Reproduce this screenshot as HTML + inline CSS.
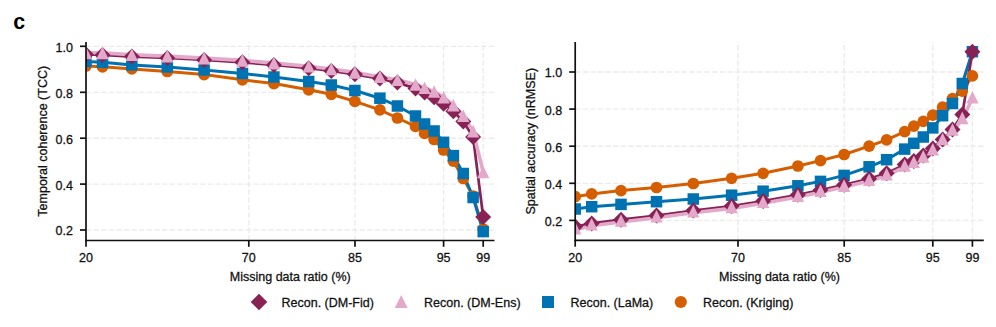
<!DOCTYPE html>
<html><head><meta charset="utf-8"><style>
html,body{margin:0;padding:0;background:#fff;width:996px;height:327px;overflow:hidden;}
svg{display:block;}
text{font-family:"Liberation Sans", sans-serif;}
</style></head><body>
<svg width="996" height="327" viewBox="0 0 996 327" font-family='"Liberation Sans", sans-serif'><text x="13.2" y="28.9" font-size="21.3" font-weight="bold" fill="#000">c</text>
<clipPath id="clip0"><rect x="86" y="42" width="408.5" height="198.5"/></clipPath>
<g stroke="#ebebeb" stroke-width="1.35" stroke-dasharray="5.3 2.3"><line x1="86" y1="46.3" x2="494.5" y2="46.3"/><line x1="86" y1="92.3" x2="494.5" y2="92.3"/><line x1="86" y1="138.2" x2="494.5" y2="138.2"/><line x1="86" y1="184.1" x2="494.5" y2="184.1"/><line x1="86" y1="230" x2="494.5" y2="230"/><line x1="86" y1="240.5" x2="86" y2="42"/><line x1="248.8" y1="240.5" x2="248.8" y2="42"/><line x1="355" y1="240.5" x2="355" y2="42"/><line x1="443.6" y1="240.5" x2="443.6" y2="42"/><line x1="483.2" y1="240.5" x2="483.2" y2="42"/></g>
<g clip-path="url(#clip0)"><polyline points="86,66 102.5,66.8 131.8,68.9 167.3,71.5 204.1,74.6 242.4,79.8 273.9,83.6 308.7,89.8 331.3,94.3 354.9,101.4 379.9,109.8 397.4,118 415.5,126.4 424.6,133.4 434.1,139.5 443.6,150 453.4,161.2 463.3,178.5 473.1,196 483.2,229" fill="none" stroke="#d55e00" stroke-width="3" stroke-linejoin="round" stroke-linecap="butt"/><polyline points="86,61.5 102.5,62.3 131.8,64.9 167.3,66.9 204.1,69.9 242.4,73.5 273.9,77 308.7,81.5 331.3,85 354.9,90.5 379.9,98.2 397.4,106 415.5,116 424.6,124 434.1,131 443.6,142.3 453.4,155.6 463.3,173.5 473.1,197.5 483.2,231.6" fill="none" stroke="#0072b2" stroke-width="3" stroke-linejoin="round" stroke-linecap="butt"/><polyline points="86,54.5 102.5,54.9 131.8,56.6 167.3,58 204.1,60 242.4,62.3 273.9,65 308.7,68.2 331.3,70.9 354.9,74.3 379.9,78.6 397.4,82.6 415.5,88.4 424.6,92.6 434.1,97.2 443.6,103.8 453.4,111.3 463.3,121.5 473.1,137 483.2,217" fill="none" stroke="#882255" stroke-width="2.7" stroke-linejoin="round" stroke-linecap="butt"/><polyline points="86,52.9 102.5,52.9 131.8,54.7 167.3,56.1 204.1,58.1 242.4,60.4 273.9,63.1 308.7,66.3 331.3,69 354.9,72.4 379.9,76.7 397.4,79.7 415.5,84.54 424.6,87.72 434.1,91.56 443.6,97.26 453.4,105.26 463.3,115.8 473.1,131.1 483.2,172" fill="none" stroke="#e3a9cb" stroke-width="3.6" stroke-linejoin="round" stroke-linecap="butt"/><circle cx="86" cy="66" r="5.85" fill="#d55e00"/><circle cx="102.5" cy="66.8" r="5.85" fill="#d55e00"/><circle cx="131.8" cy="68.9" r="5.85" fill="#d55e00"/><circle cx="167.3" cy="71.5" r="5.85" fill="#d55e00"/><circle cx="204.1" cy="74.6" r="5.85" fill="#d55e00"/><circle cx="242.4" cy="79.8" r="5.85" fill="#d55e00"/><circle cx="273.9" cy="83.6" r="5.85" fill="#d55e00"/><circle cx="308.7" cy="89.8" r="5.85" fill="#d55e00"/><circle cx="331.3" cy="94.3" r="5.85" fill="#d55e00"/><circle cx="354.9" cy="101.4" r="5.85" fill="#d55e00"/><circle cx="379.9" cy="109.8" r="5.85" fill="#d55e00"/><circle cx="397.4" cy="118" r="5.85" fill="#d55e00"/><circle cx="415.5" cy="126.4" r="5.85" fill="#d55e00"/><circle cx="424.6" cy="133.4" r="5.85" fill="#d55e00"/><circle cx="434.1" cy="139.5" r="5.85" fill="#d55e00"/><circle cx="443.6" cy="150" r="5.85" fill="#d55e00"/><circle cx="453.4" cy="161.2" r="5.85" fill="#d55e00"/><circle cx="463.3" cy="178.5" r="5.85" fill="#d55e00"/><circle cx="473.1" cy="196" r="5.85" fill="#d55e00"/><circle cx="483.2" cy="229" r="5.85" fill="#d55e00"/><rect x="80.25" y="55.75" width="11.5" height="11.5" fill="#0072b2"/><rect x="96.75" y="56.55" width="11.5" height="11.5" fill="#0072b2"/><rect x="126.05" y="59.15" width="11.5" height="11.5" fill="#0072b2"/><rect x="161.55" y="61.15" width="11.5" height="11.5" fill="#0072b2"/><rect x="198.35" y="64.15" width="11.5" height="11.5" fill="#0072b2"/><rect x="236.65" y="67.75" width="11.5" height="11.5" fill="#0072b2"/><rect x="268.15" y="71.25" width="11.5" height="11.5" fill="#0072b2"/><rect x="302.95" y="75.75" width="11.5" height="11.5" fill="#0072b2"/><rect x="325.55" y="79.25" width="11.5" height="11.5" fill="#0072b2"/><rect x="349.15" y="84.75" width="11.5" height="11.5" fill="#0072b2"/><rect x="374.15" y="92.45" width="11.5" height="11.5" fill="#0072b2"/><rect x="391.65" y="100.25" width="11.5" height="11.5" fill="#0072b2"/><rect x="409.75" y="110.25" width="11.5" height="11.5" fill="#0072b2"/><rect x="418.85" y="118.25" width="11.5" height="11.5" fill="#0072b2"/><rect x="428.35" y="125.25" width="11.5" height="11.5" fill="#0072b2"/><rect x="437.85" y="136.55" width="11.5" height="11.5" fill="#0072b2"/><rect x="447.65" y="149.85" width="11.5" height="11.5" fill="#0072b2"/><rect x="457.55" y="167.75" width="11.5" height="11.5" fill="#0072b2"/><rect x="467.35" y="191.75" width="11.5" height="11.5" fill="#0072b2"/><rect x="477.45" y="225.85" width="11.5" height="11.5" fill="#0072b2"/><path d="M86 46.5L94 54.5L86 62.5L78 54.5Z" fill="#882255"/><path d="M102.5 46.9L110.5 54.9L102.5 62.9L94.5 54.9Z" fill="#882255"/><path d="M131.8 48.6L139.8 56.6L131.8 64.6L123.8 56.6Z" fill="#882255"/><path d="M167.3 50L175.3 58L167.3 66L159.3 58Z" fill="#882255"/><path d="M204.1 52L212.1 60L204.1 68L196.1 60Z" fill="#882255"/><path d="M242.4 54.3L250.4 62.3L242.4 70.3L234.4 62.3Z" fill="#882255"/><path d="M273.9 57L281.9 65L273.9 73L265.9 65Z" fill="#882255"/><path d="M308.7 60.2L316.7 68.2L308.7 76.2L300.7 68.2Z" fill="#882255"/><path d="M331.3 62.9L339.3 70.9L331.3 78.9L323.3 70.9Z" fill="#882255"/><path d="M354.9 66.3L362.9 74.3L354.9 82.3L346.9 74.3Z" fill="#882255"/><path d="M379.9 70.6L387.9 78.6L379.9 86.6L371.9 78.6Z" fill="#882255"/><path d="M397.4 74.6L405.4 82.6L397.4 90.6L389.4 82.6Z" fill="#882255"/><path d="M415.5 80.4L423.5 88.4L415.5 96.4L407.5 88.4Z" fill="#882255"/><path d="M424.6 84.6L432.6 92.6L424.6 100.6L416.6 92.6Z" fill="#882255"/><path d="M434.1 89.2L442.1 97.2L434.1 105.2L426.1 97.2Z" fill="#882255"/><path d="M443.6 95.8L451.6 103.8L443.6 111.8L435.6 103.8Z" fill="#882255"/><path d="M453.4 103.3L461.4 111.3L453.4 119.3L445.4 111.3Z" fill="#882255"/><path d="M463.3 113.5L471.3 121.5L463.3 129.5L455.3 121.5Z" fill="#882255"/><path d="M473.1 129L481.1 137L473.1 145L465.1 137Z" fill="#882255"/><path d="M483.2 209L491.2 217L483.2 225L475.2 217Z" fill="#882255"/><path d="M86 46.6L92.2 59.2L79.8 59.2Z" fill="#e3a9cb"/><path d="M102.5 46.6L108.7 59.2L96.3 59.2Z" fill="#e3a9cb"/><path d="M131.8 48.4L138 61L125.6 61Z" fill="#e3a9cb"/><path d="M167.3 49.8L173.5 62.4L161.1 62.4Z" fill="#e3a9cb"/><path d="M204.1 51.8L210.3 64.4L197.9 64.4Z" fill="#e3a9cb"/><path d="M242.4 54.1L248.6 66.7L236.2 66.7Z" fill="#e3a9cb"/><path d="M273.9 56.8L280.1 69.4L267.7 69.4Z" fill="#e3a9cb"/><path d="M308.7 60L314.9 72.6L302.5 72.6Z" fill="#e3a9cb"/><path d="M331.3 62.7L337.5 75.3L325.1 75.3Z" fill="#e3a9cb"/><path d="M354.9 66.1L361.1 78.7L348.7 78.7Z" fill="#e3a9cb"/><path d="M379.9 70.4L386.1 83L373.7 83Z" fill="#e3a9cb"/><path d="M397.4 73.4L403.6 86L391.2 86Z" fill="#e3a9cb"/><path d="M415.5 78.24L421.7 90.84L409.3 90.84Z" fill="#e3a9cb"/><path d="M424.6 81.42L430.8 94.02L418.4 94.02Z" fill="#e3a9cb"/><path d="M434.1 85.26L440.3 97.86L427.9 97.86Z" fill="#e3a9cb"/><path d="M443.6 90.96L449.8 103.56L437.4 103.56Z" fill="#e3a9cb"/><path d="M453.4 98.96L459.6 111.56L447.2 111.56Z" fill="#e3a9cb"/><path d="M463.3 109.5L469.5 122.1L457.1 122.1Z" fill="#e3a9cb"/><path d="M473.1 124.8L479.3 137.4L466.9 137.4Z" fill="#e3a9cb"/><path d="M483.2 165.7L489.4 178.3L477 178.3Z" fill="#e3a9cb"/></g>
<g stroke="#111" stroke-width="1.7"><line x1="86" y1="42" x2="86" y2="241.3"/><line x1="85.2" y1="240.5" x2="494.5" y2="240.5"/><line x1="80" y1="46.3" x2="86" y2="46.3"/><line x1="80" y1="92.3" x2="86" y2="92.3"/><line x1="80" y1="138.2" x2="86" y2="138.2"/><line x1="80" y1="184.1" x2="86" y2="184.1"/><line x1="80" y1="230" x2="86" y2="230"/><line x1="86" y1="240.5" x2="86" y2="246.8"/><line x1="248.8" y1="240.5" x2="248.8" y2="246.8"/><line x1="355" y1="240.5" x2="355" y2="246.8"/><line x1="443.6" y1="240.5" x2="443.6" y2="246.8"/><line x1="483.2" y1="240.5" x2="483.2" y2="246.8"/></g>
<g fill="#111" font-size="12.5" stroke="#111" stroke-width="0.28"><text x="73" y="51.7" text-anchor="end">1.0</text><text x="73" y="97.7" text-anchor="end">0.8</text><text x="73" y="143.6" text-anchor="end">0.6</text><text x="73" y="189.5" text-anchor="end">0.4</text><text x="73" y="235.4" text-anchor="end">0.2</text><text x="86" y="262" text-anchor="middle">20</text><text x="248.8" y="262" text-anchor="middle">70</text><text x="355" y="262" text-anchor="middle">85</text><text x="443.6" y="262" text-anchor="middle">95</text><text x="483.2" y="262" text-anchor="middle">99</text><text x="290.25" y="280.7" text-anchor="middle">Missing data ratio (%)</text><text transform="translate(46.7 141.25) rotate(-90)" text-anchor="middle">Temporal coherence (TCC)</text></g>
<clipPath id="clip1"><rect x="575.2" y="42" width="408.6" height="198.4"/></clipPath>
<g stroke="#ebebeb" stroke-width="1.35" stroke-dasharray="5.3 2.3"><line x1="575.2" y1="72" x2="983.8" y2="72"/><line x1="575.2" y1="109.1" x2="983.8" y2="109.1"/><line x1="575.2" y1="146.2" x2="983.8" y2="146.2"/><line x1="575.2" y1="183.3" x2="983.8" y2="183.3"/><line x1="575.2" y1="220.4" x2="983.8" y2="220.4"/><line x1="575.2" y1="240.4" x2="575.2" y2="42"/><line x1="738" y1="240.4" x2="738" y2="42"/><line x1="844.2" y1="240.4" x2="844.2" y2="42"/><line x1="932.8" y1="240.4" x2="932.8" y2="42"/><line x1="972.4" y1="240.4" x2="972.4" y2="42"/></g>
<g clip-path="url(#clip1)"><polyline points="575.2,196.7 591.7,193.9 621,190.6 656.5,187.5 693.3,183.5 731.6,178.3 763.1,173.3 797.9,166 820.5,160.6 844.1,154.5 869.1,146.2 886.6,139.8 904.7,131.6 913.8,126.2 923.3,121.3 932.8,115.2 942.6,107.1 952.5,98.6 962.3,91.1 972.4,75.9" fill="none" stroke="#d55e00" stroke-width="3" stroke-linejoin="round" stroke-linecap="butt"/><polyline points="575.2,209 591.7,206.7 621,204.4 656.5,201.7 693.3,199 731.6,195.2 763.1,191.2 797.9,185.8 820.5,181.4 844.1,175.4 869.1,166.8 886.6,159.7 904.7,149.1 913.8,143.3 923.3,137 932.8,127.9 942.6,115.7 952.5,103.5 962.3,83.5 972.4,51.7" fill="none" stroke="#0072b2" stroke-width="3" stroke-linejoin="round" stroke-linecap="butt"/><polyline points="575.2,226.5 591.7,223.4 621,219.7 656.5,215.5 693.3,210.5 731.6,206.1 763.1,201 797.9,194.8 820.5,190 844.1,184.8 869.1,178.8 886.6,173.3 904.7,164.6 913.8,161 923.3,155.6 932.8,148.5 942.6,139.4 952.5,129.6 962.3,114.5 972.4,51.7" fill="none" stroke="#882255" stroke-width="2.7" stroke-linejoin="round" stroke-linecap="butt"/><polyline points="575.2,229.8 591.7,225.7 621,222 656.5,217.8 693.3,212.8 731.6,208.4 763.1,203.3 797.9,197.1 820.5,192.3 844.1,187.1 869.1,181.1 886.6,175.6 904.7,166.9 913.8,163.3 923.3,157.9 932.8,150.8 942.6,140.5 952.5,131 962.3,119.4 972.4,98.8" fill="none" stroke="#e3a9cb" stroke-width="3.6" stroke-linejoin="round" stroke-linecap="butt"/><circle cx="575.2" cy="196.7" r="5.85" fill="#d55e00"/><circle cx="591.7" cy="193.9" r="5.85" fill="#d55e00"/><circle cx="621" cy="190.6" r="5.85" fill="#d55e00"/><circle cx="656.5" cy="187.5" r="5.85" fill="#d55e00"/><circle cx="693.3" cy="183.5" r="5.85" fill="#d55e00"/><circle cx="731.6" cy="178.3" r="5.85" fill="#d55e00"/><circle cx="763.1" cy="173.3" r="5.85" fill="#d55e00"/><circle cx="797.9" cy="166" r="5.85" fill="#d55e00"/><circle cx="820.5" cy="160.6" r="5.85" fill="#d55e00"/><circle cx="844.1" cy="154.5" r="5.85" fill="#d55e00"/><circle cx="869.1" cy="146.2" r="5.85" fill="#d55e00"/><circle cx="886.6" cy="139.8" r="5.85" fill="#d55e00"/><circle cx="904.7" cy="131.6" r="5.85" fill="#d55e00"/><circle cx="913.8" cy="126.2" r="5.85" fill="#d55e00"/><circle cx="923.3" cy="121.3" r="5.85" fill="#d55e00"/><circle cx="932.8" cy="115.2" r="5.85" fill="#d55e00"/><circle cx="942.6" cy="107.1" r="5.85" fill="#d55e00"/><circle cx="952.5" cy="98.6" r="5.85" fill="#d55e00"/><circle cx="962.3" cy="91.1" r="5.85" fill="#d55e00"/><circle cx="972.4" cy="75.9" r="5.85" fill="#d55e00"/><rect x="569.45" y="203.25" width="11.5" height="11.5" fill="#0072b2"/><rect x="585.95" y="200.95" width="11.5" height="11.5" fill="#0072b2"/><rect x="615.25" y="198.65" width="11.5" height="11.5" fill="#0072b2"/><rect x="650.75" y="195.95" width="11.5" height="11.5" fill="#0072b2"/><rect x="687.55" y="193.25" width="11.5" height="11.5" fill="#0072b2"/><rect x="725.85" y="189.45" width="11.5" height="11.5" fill="#0072b2"/><rect x="757.35" y="185.45" width="11.5" height="11.5" fill="#0072b2"/><rect x="792.15" y="180.05" width="11.5" height="11.5" fill="#0072b2"/><rect x="814.75" y="175.65" width="11.5" height="11.5" fill="#0072b2"/><rect x="838.35" y="169.65" width="11.5" height="11.5" fill="#0072b2"/><rect x="863.35" y="161.05" width="11.5" height="11.5" fill="#0072b2"/><rect x="880.85" y="153.95" width="11.5" height="11.5" fill="#0072b2"/><rect x="898.95" y="143.35" width="11.5" height="11.5" fill="#0072b2"/><rect x="908.05" y="137.55" width="11.5" height="11.5" fill="#0072b2"/><rect x="917.55" y="131.25" width="11.5" height="11.5" fill="#0072b2"/><rect x="927.05" y="122.15" width="11.5" height="11.5" fill="#0072b2"/><rect x="936.85" y="109.95" width="11.5" height="11.5" fill="#0072b2"/><rect x="946.75" y="97.75" width="11.5" height="11.5" fill="#0072b2"/><rect x="956.55" y="77.75" width="11.5" height="11.5" fill="#0072b2"/><rect x="966.65" y="45.95" width="11.5" height="11.5" fill="#0072b2"/><path d="M575.2 218.5L583.2 226.5L575.2 234.5L567.2 226.5Z" fill="#882255"/><path d="M591.7 215.4L599.7 223.4L591.7 231.4L583.7 223.4Z" fill="#882255"/><path d="M621 211.7L629 219.7L621 227.7L613 219.7Z" fill="#882255"/><path d="M656.5 207.5L664.5 215.5L656.5 223.5L648.5 215.5Z" fill="#882255"/><path d="M693.3 202.5L701.3 210.5L693.3 218.5L685.3 210.5Z" fill="#882255"/><path d="M731.6 198.1L739.6 206.1L731.6 214.1L723.6 206.1Z" fill="#882255"/><path d="M763.1 193L771.1 201L763.1 209L755.1 201Z" fill="#882255"/><path d="M797.9 186.8L805.9 194.8L797.9 202.8L789.9 194.8Z" fill="#882255"/><path d="M820.5 182L828.5 190L820.5 198L812.5 190Z" fill="#882255"/><path d="M844.1 176.8L852.1 184.8L844.1 192.8L836.1 184.8Z" fill="#882255"/><path d="M869.1 170.8L877.1 178.8L869.1 186.8L861.1 178.8Z" fill="#882255"/><path d="M886.6 165.3L894.6 173.3L886.6 181.3L878.6 173.3Z" fill="#882255"/><path d="M904.7 156.6L912.7 164.6L904.7 172.6L896.7 164.6Z" fill="#882255"/><path d="M913.8 153L921.8 161L913.8 169L905.8 161Z" fill="#882255"/><path d="M923.3 147.6L931.3 155.6L923.3 163.6L915.3 155.6Z" fill="#882255"/><path d="M932.8 140.5L940.8 148.5L932.8 156.5L924.8 148.5Z" fill="#882255"/><path d="M942.6 131.4L950.6 139.4L942.6 147.4L934.6 139.4Z" fill="#882255"/><path d="M952.5 121.6L960.5 129.6L952.5 137.6L944.5 129.6Z" fill="#882255"/><path d="M962.3 106.5L970.3 114.5L962.3 122.5L954.3 114.5Z" fill="#882255"/><path d="M972.4 43.7L980.4 51.7L972.4 59.7L964.4 51.7Z" fill="#882255"/><path d="M575.2 222L581.4 234.6L569 234.6Z" fill="#e3a9cb"/><path d="M591.7 217.9L597.9 230.5L585.5 230.5Z" fill="#e3a9cb"/><path d="M621 214.2L627.2 226.8L614.8 226.8Z" fill="#e3a9cb"/><path d="M656.5 210L662.7 222.6L650.3 222.6Z" fill="#e3a9cb"/><path d="M693.3 205L699.5 217.6L687.1 217.6Z" fill="#e3a9cb"/><path d="M731.6 200.6L737.8 213.2L725.4 213.2Z" fill="#e3a9cb"/><path d="M763.1 195.5L769.3 208.1L756.9 208.1Z" fill="#e3a9cb"/><path d="M797.9 189.3L804.1 201.9L791.7 201.9Z" fill="#e3a9cb"/><path d="M820.5 184.5L826.7 197.1L814.3 197.1Z" fill="#e3a9cb"/><path d="M844.1 179.3L850.3 191.9L837.9 191.9Z" fill="#e3a9cb"/><path d="M869.1 173.3L875.3 185.9L862.9 185.9Z" fill="#e3a9cb"/><path d="M886.6 167.8L892.8 180.4L880.4 180.4Z" fill="#e3a9cb"/><path d="M904.7 159.1L910.9 171.7L898.5 171.7Z" fill="#e3a9cb"/><path d="M913.8 155.5L920 168.1L907.6 168.1Z" fill="#e3a9cb"/><path d="M923.3 150.1L929.5 162.7L917.1 162.7Z" fill="#e3a9cb"/><path d="M932.8 143L939 155.6L926.6 155.6Z" fill="#e3a9cb"/><path d="M942.6 132.7L948.8 145.3L936.4 145.3Z" fill="#e3a9cb"/><path d="M952.5 123.2L958.7 135.8L946.3 135.8Z" fill="#e3a9cb"/><path d="M962.3 111.6L968.5 124.2L956.1 124.2Z" fill="#e3a9cb"/><path d="M972.4 91L978.6 103.6L966.2 103.6Z" fill="#e3a9cb"/></g>
<g stroke="#111" stroke-width="1.7"><line x1="575.2" y1="42" x2="575.2" y2="241.2"/><line x1="574.4" y1="240.4" x2="983.8" y2="240.4"/><line x1="569.2" y1="72" x2="575.2" y2="72"/><line x1="569.2" y1="109.1" x2="575.2" y2="109.1"/><line x1="569.2" y1="146.2" x2="575.2" y2="146.2"/><line x1="569.2" y1="183.3" x2="575.2" y2="183.3"/><line x1="569.2" y1="220.4" x2="575.2" y2="220.4"/><line x1="575.2" y1="240.4" x2="575.2" y2="246.7"/><line x1="738" y1="240.4" x2="738" y2="246.7"/><line x1="844.2" y1="240.4" x2="844.2" y2="246.7"/><line x1="932.8" y1="240.4" x2="932.8" y2="246.7"/><line x1="972.4" y1="240.4" x2="972.4" y2="246.7"/></g>
<g fill="#111" font-size="12.5" stroke="#111" stroke-width="0.28"><text x="562.2" y="77.4" text-anchor="end">1.0</text><text x="562.2" y="114.5" text-anchor="end">0.8</text><text x="562.2" y="151.6" text-anchor="end">0.6</text><text x="562.2" y="188.7" text-anchor="end">0.4</text><text x="562.2" y="225.8" text-anchor="end">0.2</text><text x="575.2" y="261.9" text-anchor="middle">20</text><text x="738" y="261.9" text-anchor="middle">70</text><text x="844.2" y="261.9" text-anchor="middle">85</text><text x="932.8" y="261.9" text-anchor="middle">95</text><text x="972.4" y="261.9" text-anchor="middle">99</text><text x="779.5" y="280.6" text-anchor="middle">Missing data ratio (%)</text><text transform="translate(534.7 141.2) rotate(-90)" text-anchor="middle">Spatial accuracy (nRMSE)</text></g>
<g><path d="M259 293.7L267.3 302L259 310.3L250.7 302Z" fill="#882255"/><path d="M401.2 295.1L407.6 307.9L394.8 307.9Z" fill="#e3a9cb"/><rect x="542" y="296" width="12" height="12" fill="#0072b2"/><circle cx="680.8" cy="302" r="6.1" fill="#d55e00"/></g>
<g font-size="12.5" fill="#111" stroke="#111" stroke-width="0.28"><text x="281.5" y="307.0">Recon. (DM-Fid)</text><text x="424" y="307.0">Recon. (DM-Ens)</text><text x="570.5" y="307.0">Recon. (LaMa)</text><text x="703" y="307.0">Recon. (Kriging)</text></g></svg>
</body></html>
